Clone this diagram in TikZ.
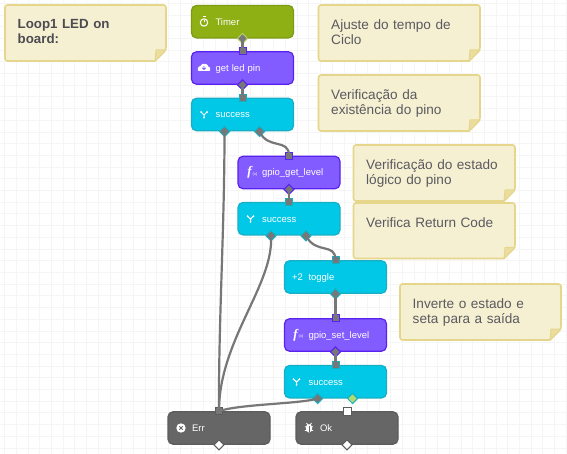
\documentclass[tikz,border=0pt]{standalone}
\usepackage{fontspec}
\setmainfont{Liberation Sans}
\newfontfamily\fnfont{Liberation Serif}
\usepackage{xcolor}
\usetikzlibrary{positioning, shapes.geometric, calc}
\definecolor{noteFill}{HTML}{F6F0D2}
\definecolor{noteEdge}{HTML}{E6D68C}
\definecolor{noteText}{HTML}{5A5A60}
\definecolor{timerFill}{HTML}{8FB014}
\definecolor{timerEdge}{HTML}{7C9A12}
\definecolor{pinFill}{HTML}{825CFF}
\definecolor{pinEdge}{HTML}{5A22F0}
\definecolor{okFill}{HTML}{00C8E6}
\definecolor{okEdge}{HTML}{18AEC4}
\definecolor{endFill}{HTML}{666666}
\definecolor{endEdge}{HTML}{5C5C5C}
\definecolor{wire}{HTML}{777777}
\tikzset{
  flowbox/.style={draw, rounded corners=5pt, line width=1.2pt, minimum width=102pt, minimum height=32.5pt,
    text=white, font=\fontsize{9.5}{11}\selectfont, align=left, text width=54pt, inner sep=0pt,
    text height=8.5pt, text depth=1.5pt},
  timerbox/.style={flowbox, fill=timerFill, draw=timerEdge},
  pinbox/.style={flowbox, fill=pinFill, draw=pinEdge},
  okbox/.style={flowbox, fill=okFill, draw=okEdge},
  endbox/.style={flowbox, fill=endFill, draw=endEdge},
  inport/.style={draw, rectangle, line width=1pt, minimum size=7pt, inner sep=0pt, fill=wire},
  outport/.style={draw, diamond, line width=1pt, minimum size=10.5pt, inner sep=0pt, fill=wire},
  wireline/.style={draw=wire, line width=2.2pt},
  notetext/.style={anchor=north west, text=noteText, align=left, inner sep=0pt,
    font=\fontsize{13.6}{15.5}\selectfont, text width=135pt},
  icontext/.style={text=white, inner sep=0pt, font=\fontsize{9}{10}\selectfont},
}
% name, left, top, right, bottom, text
\newcommand{\stickynote}[6]{
  \draw[fill=noteFill, draw=noteEdge, line width=1.6pt, rounded corners=2.5pt]
    (#2,#3) -- (#4,#3) -- (#4,#5-11) [sharp corners] -- (#4-11,#5) [rounded corners=2.5pt] -- (#2,#5) -- cycle;
  \draw[fill=noteEdge!75!noteFill, draw=noteEdge, line width=1pt, line join=round]
    (#4,#5-11) -- (#4-10,#5-11) -- (#4-11,#5) -- cycle;
  \node[notetext] (#1) at (#2+12.5,#3+14) {#6};
}
\begin{document}
\begin{tikzpicture}[x=1pt, y=-1pt]
  \useasboundingbox (0,0) rectangle (567,454);
  \fill[white] (0,0) rectangle (567,454);
  % ============ grid ============
  \foreach \gx in {0,...,48} \draw[black!4, line width=0.6pt] (4.5+11.7*\gx,0) -- (4.5+11.7*\gx,454);
  \foreach \gy in {0,...,38} \draw[black!4, line width=0.6pt] (0,3.2+11.7*\gy) -- (567,3.2+11.7*\gy);
  % ============ notes ============
  \stickynote{noteTitle}{5}{5}{166}{61}{\bfseries\color{noteText!85!black}\fontsize{13.3}{15.5}\selectfont Loop1 LED on board:}
  \stickynote{noteCycle}{318.5}{5}{480}{61}{Ajuste do tempo de\\Ciclo}
  \stickynote{notePin}{318.5}{75}{480}{131}{Verificação da\\existência do pino}
  \stickynote{noteLevel}{353.5}{145}{515}{201}{Verificação do estado\\lógico do pino}
  \stickynote{noteCode}{353.5}{203}{515}{258.5}{Verifica Return Code}
  \stickynote{noteToggle}{400}{284}{561}{340}{Inverte o estado e\\seta para a saída}
  % ============ blocks ============
  \node[timerbox] (timer) at (242.5,21.7) {Timer};
  \node[pinbox] (getpin) at (242.5,68) {get led pin};
  \node[okbox] (success1) at (242.5,114.5) {success};
  \node[pinbox] (getlevel) at (289,172.5) {gpio\_get\_level};
  \node[okbox] (success2) at (289,218.7) {success};
  \node[okbox] (toggle) at (335.5,277) {toggle};
  \node[pinbox] (setlevel) at (335.5,335) {gpio\_set\_level};
  \node[okbox] (success3) at (335.5,381.7) {success};
  \node[endbox] (err) at (219,428) {Err};
  \node[endbox] (ok) at (347,428) {Ok};
  % ============ ports ============
  \node[outport, draw=timerFill!60!white] (timerOut) at (timer.south) {};
  \node[inport, draw=pinEdge] (getpinIn) at (getpin.north) {};
  \node[outport, draw=pinEdge] (getpinOut) at (getpin.south) {};
  \node[inport, draw=okEdge] (success1In) at (success1.north) {};
  \node[outport, draw=okEdge] (success1A) at (224.5,131.5) {};
  \node[outport, draw=okEdge] (success1B) at (259.5,131.5) {};
  \node[inport, draw=pinEdge] (getlevelIn) at (getlevel.north) {};
  \node[outport, draw=pinEdge] (getlevelOut) at (getlevel.south) {};
  \node[inport, draw=okEdge] (success2In) at (success2.north) {};
  \node[outport, draw=okEdge] (success2A) at (271,235.8) {};
  \node[outport, draw=okEdge] (success2B) at (306,235.8) {};
  \node[inport, draw=okEdge] (toggleIn) at (toggle.north) {};
  \node[outport, draw=okEdge] (toggleOut) at (toggle.south) {};
  \node[inport, draw=pinEdge] (setlevelIn) at (setlevel.north) {};
  \node[outport, draw=pinEdge] (setlevelOut) at (setlevel.south) {};
  \node[inport, draw=okEdge] (success3In) at (success3.north) {};
  \node[outport, draw=okEdge] (success3A) at (317.7,398.5) {};
  \node[outport, draw=okEdge, fill=green!40!yellow!60!gray!70] (success3B) at (352.5,398.5) {};
  \node[inport, draw=endEdge] (errIn) at (err.north) {};
  \node[outport, draw=endEdge, fill=white] (errOut) at (err.south) {};
  \node[inport, draw=endEdge, fill=white, minimum size=8pt] (okIn) at (ok.north) {};
  \node[outport, draw=endEdge, fill=white] (okOut) at (ok.south) {};
  % ============ wires ============
  \draw[wireline] (timerOut.center) -- (getpinIn.center);
  \draw[wireline] (getpinOut.center) -- (success1In.center);
  \draw[wireline] (success1A.center) .. controls (224.5,230) and (218.5,320) .. (errIn.center);
  \draw[wireline] (success1B.center) .. controls (268,150) and (289,138) .. (getlevelIn.center);
  \draw[wireline] (getlevelOut.center) -- (success2In.center);
  \draw[wireline] (success2A.center) .. controls (274,285) and (219,340) .. (errIn.center);
  \draw[wireline] (success2B.center) .. controls (316,255) and (335.5,242) .. (toggleIn.center);
  \draw[wireline] (toggleOut.center) -- (setlevelIn.center);
  \draw[wireline] (setlevelOut.center) -- (success3In.center);
  \draw[wireline] (success3A.center) .. controls (300,404) and (240,404) .. (errIn.center);
  % ============ icons ============
  \draw[white, line width=1pt] (204,22.5) circle (3.7pt);
  \draw[white, line width=1pt] (202.5,17) -- (205.5,17) (204,22.5) -- (204,20.3);
  \fill[white] (199,71) to[out=180,in=180,looseness=1.3] (200.5,66) to[out=80,in=170] (205,63.8)
    to[out=0,in=100] (208.2,66.5) to[out=0,in=0,looseness=1.2] (209,71) -- cycle;
  \draw[pinFill, line width=0.9pt] (204,65.8) -- (204,69.5) (202.3,67.9) -- (204,69.5) -- (205.7,67.9);
  \foreach \fx/\fy in {204/114.5, 250.5/218.7, 296.5/381.7} {
    \draw[white, line width=1pt] (\fx-3,\fy-2.5) -- (\fx,\fy+0.5) -- (\fx+3,\fy-2.5) (\fx,\fy+0.5) -- (\fx,\fy+3.2);
    \fill[white] (\fx-3,\fy-2.5) circle (1pt) (\fx+3,\fy-2.5) circle (1pt) (\fx,\fy+3.2) circle (1pt);
  }
  \node[icontext, font=\fnfont\bfseries\itshape\fontsize{13}{14}\selectfont] (fnGet) at (249.5,172.5) {f};
  \node[icontext, font=\fontsize{4}{5}\selectfont] (fnGetArg) at (255,174) {(x)};
  \node[icontext, font=\fnfont\bfseries\itshape\fontsize{13}{14}\selectfont] (fnSet) at (295.5,335) {f};
  \node[icontext, font=\fontsize{4}{5}\selectfont] (fnSetArg) at (301,336.5) {(x)};
  \node[icontext, font=\fontsize{9.5}{11}\selectfont] (plusTwo) at (297.5,277.5) {+2};
  \fill[white] (181,428) circle (4.7pt);
  \draw[endFill, line width=0.9pt] (179.3,426.3) -- (182.7,429.7) (182.7,426.3) -- (179.3,429.7);
  \fill[white] (309,428.3) ellipse (3.2pt and 4.2pt);
  \draw[white, line width=0.8pt] (306.5,423) -- (307.8,424.8) (311.5,423) -- (310.2,424.8)
    (304.8,426.8) -- (313.2,426.8) (304.8,430.5) -- (313.2,430.5);
  \fill[endFill] (308.5,426.2) rectangle (309.5,431.5);
\end{tikzpicture}
\end{document}
